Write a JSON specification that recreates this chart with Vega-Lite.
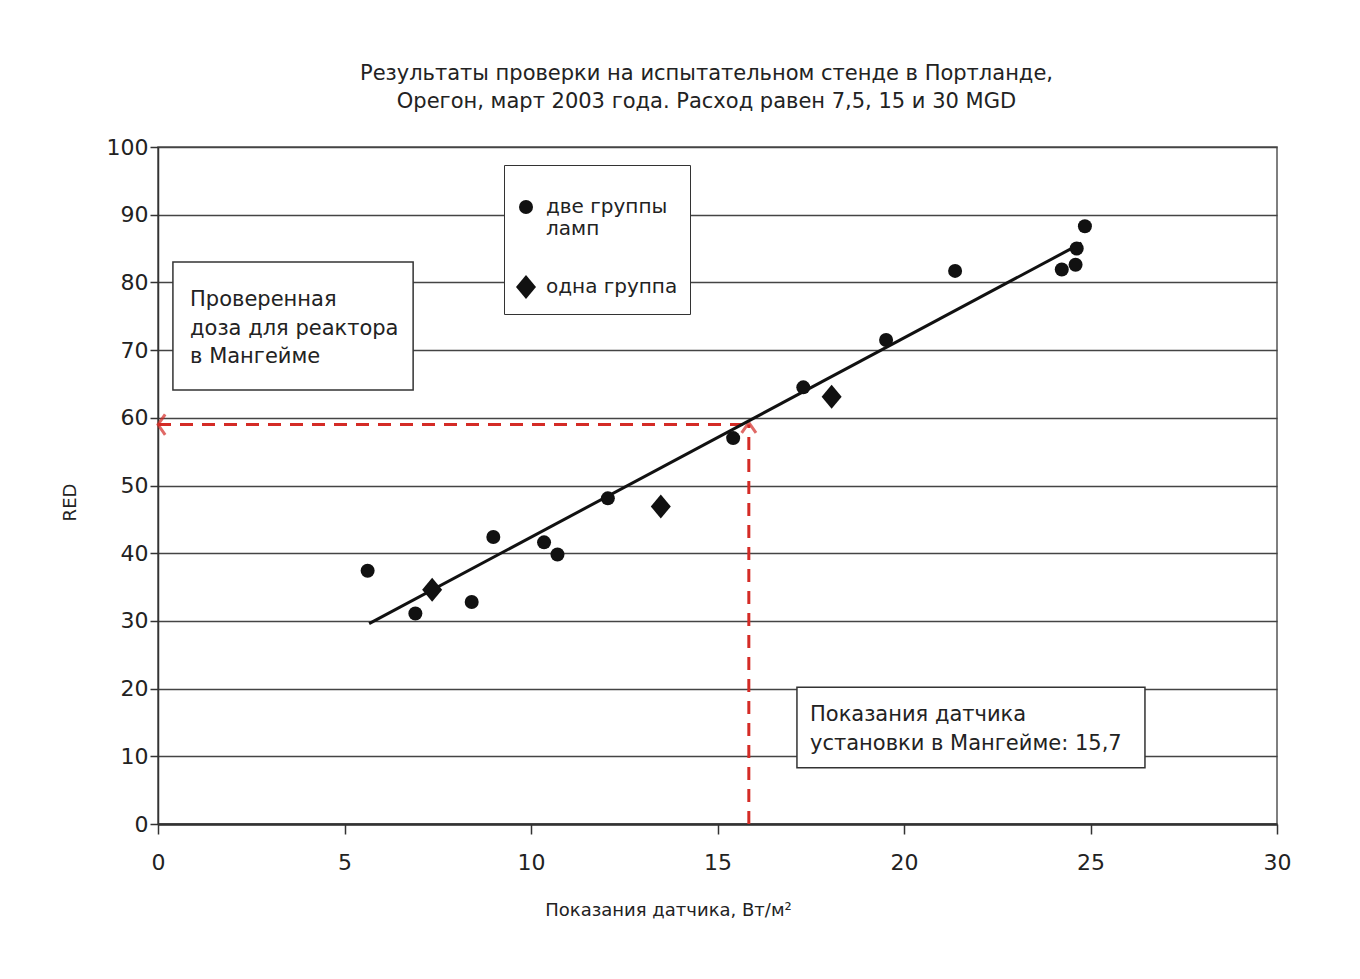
{
  "$schema": "https://vega.github.io/schema/vega-lite/v6.json",
  "autosize": "none",
  "padding": {"left": 158, "top": 147, "right": 83, "bottom": 155},
  "width": 1119,
  "height": 677,
  "background": "#ffffff",
  "title": {
    "text": ["Результаты проверки на испытательном стенде в Портланде,", "Орегон, март 2003 года. Расход равен 7,5, 15 и 30 MGD"],
    "font": "DejaVu Sans",
    "fontSize": 21,
    "fontWeight": "normal",
    "color": "#222222",
    "anchor": "middle",
    "lineHeight": 28,
    "offset": 24,
    "dx": -11
  },
  "config": {
    "view": {"stroke": "#555555", "strokeWidth": 1.5},
    "axis": {
      "labelFont": "DejaVu Sans",
      "titleFont": "DejaVu Sans",
      "labelColor": "#222222",
      "titleColor": "#222222",
      "titleFontWeight": "normal",
      "domainColor": "#333333",
      "tickColor": "#333333"
    }
  },
  "datasets": {
    "points": [
      {"x": 5.62, "y": 37.4, "group": "две группы ламп"},
      {"x": 6.90, "y": 31.1, "group": "две группы ламп"},
      {"x": 8.41, "y": 32.8, "group": "две группы ламп"},
      {"x": 8.99, "y": 42.4, "group": "две группы ламп"},
      {"x": 10.35, "y": 41.6, "group": "две группы ламп"},
      {"x": 10.71, "y": 39.8, "group": "две группы ламп"},
      {"x": 12.06, "y": 48.1, "group": "две группы ламп"},
      {"x": 15.42, "y": 57.0, "group": "две группы ламп"},
      {"x": 17.30, "y": 64.5, "group": "две группы ламп"},
      {"x": 19.52, "y": 71.5, "group": "две группы ламп"},
      {"x": 21.37, "y": 81.7, "group": "две группы ламп"},
      {"x": 24.23, "y": 81.9, "group": "две группы ламп"},
      {"x": 24.60, "y": 82.6, "group": "две группы ламп"},
      {"x": 24.63, "y": 85.0, "group": "две группы ламп"},
      {"x": 24.85, "y": 88.3, "group": "две группы ламп"},
      {"x": 7.35, "y": 34.6, "group": "одна группа"},
      {"x": 13.48, "y": 46.9, "group": "одна группа"},
      {"x": 18.06, "y": 63.1, "group": "одна группа"}
    ],
    "fit": [
      {"x": 5.66, "y": 29.6},
      {"x": 24.76, "y": 85.8}
    ],
    "guides": [
      {"x": 0, "x2": 15.84, "y": 59.0, "y2": 59.0},
      {"x": 15.84, "x2": 15.84, "y": 0, "y2": 59.0}
    ],
    "arrowLeft": [{"x": 0, "y": 59.0}],
    "arrowUp": [{"x": 15.84, "y": 59.3}],
    "boxes": [
      {"x": 0.40, "x2": 6.84, "y": 83.0, "y2": 64.1},
      {"x": 17.13, "x2": 26.46, "y": 20.2, "y2": 8.3}
    ],
    "notes": [
      {"x": 0.86, "y": 79.0, "text": "Проверенная\nдоза для реактора\nв Мангейме"},
      {"x": 17.48, "y": 17.7, "text": "Показания датчика\nустановки в Мангейме: 15,7"}
    ]
  },
  "encoding": {
    "x": {
      "field": "x", "type": "quantitative",
      "scale": {"domain": [0, 30], "nice": false},
      "axis": {
        "title": "Показания датчика, Вт/м²",
        "values": [0, 5, 10, 15, 20, 25, 30],
        "grid": false,
        "domainWidth": 2.5,
        "tickSize": 10,
        "tickWidth": 1.5,
        "labelFontSize": 22,
        "labelPadding": 18,
        "labelFlush": false,
        "titleFontSize": 18,
        "titlePadding": 28,
        "titleX": 510
      }
    },
    "y": {
      "field": "y", "type": "quantitative",
      "scale": {"domain": [0, 100], "nice": false},
      "axis": {
        "title": "RED",
        "values": [0, 10, 20, 30, 40, 50, 60, 70, 80, 90, 100],
        "grid": true,
        "gridColor": "#444444",
        "gridWidth": 1.5,
        "domainWidth": 1.5,
        "tickSize": 8,
        "tickWidth": 1.5,
        "labelFontSize": 22,
        "labelPadding": 2,
        "labelFlush": false,
        "titleFontSize": 18,
        "titlePadding": 27,
        "titleY": 355
      }
    }
  },
  "layer": [
    {
      "data": {"name": "boxes"},
      "mark": {"type": "rect", "fill": "#ffffff", "stroke": "#333333", "strokeWidth": 1.5},
      "encoding": {
        "x2": {"field": "x2"},
        "y2": {"field": "y2"}
      }
    },
    {
      "data": {"name": "notes"},
      "mark": {"type": "text", "align": "left", "baseline": "top", "lineBreak": "\n", "lineHeight": 28.5, "font": "DejaVu Sans", "fontSize": 21, "color": "#222222"},
      "encoding": {
        "text": {"field": "text"}
      }
    },
    {
      "data": {"name": "guides"},
      "mark": {"type": "rule", "color": "#d42b26", "strokeWidth": 3, "strokeDash": [13, 9]},
      "encoding": {
        "x2": {"field": "x2"},
        "y2": {"field": "y2"}
      }
    },
    {
      "data": {"name": "arrowLeft"},
      "mark": {"type": "point", "shape": "M 0.7 -1 L 0 0 L 0.7 1", "filled": false, "stroke": "#d42b26", "strokeWidth": 3, "size": 420}
    },
    {
      "data": {"name": "arrowUp"},
      "mark": {"type": "point", "shape": "M -0.7 1 L 0 0 L 0.7 1", "filled": false, "stroke": "#d42b26", "strokeWidth": 3, "size": 420}
    },
    {
      "data": {"name": "fit"},
      "mark": {"type": "line", "color": "#111111", "strokeWidth": 3}
    },
    {
      "data": {"name": "points"},
      "mark": {"type": "point", "filled": true, "opacity": 1, "color": "#111111", "size": 196},
      "encoding": {
        "shape": {
          "field": "group", "type": "nominal",
          "scale": {"domain": ["две группы ламп", "одна группа"], "range": ["circle", "M-1.43,0L0,-1.71L1.43,0L0,1.71Z"]},
          "legend": {
            "title": " ",
            "titleFontSize": 10,
            "titlePadding": 10,
            "orient": "none",
            "legendX": 346,
            "legendY": 18,
            "direction": "vertical",
            "fillColor": "#ffffff",
            "strokeColor": "#333333",
            "padding": 12,
            "rowPadding": 33,
            "labelFont": "DejaVu Sans",
            "labelFontSize": 20,
            "labelColor": "#222222",
            "labelBaseline": "middle",
            "labelOffset": 10,
            "symbolSize": 196,
            "symbolFillColor": "#111111",
            "symbolStrokeColor": "#111111",
            "labelExpr": "datum.label == 'две группы ламп' ? ['две группы', 'ламп'] : datum.label"
          }
        }
      }
    }
  ]
}
